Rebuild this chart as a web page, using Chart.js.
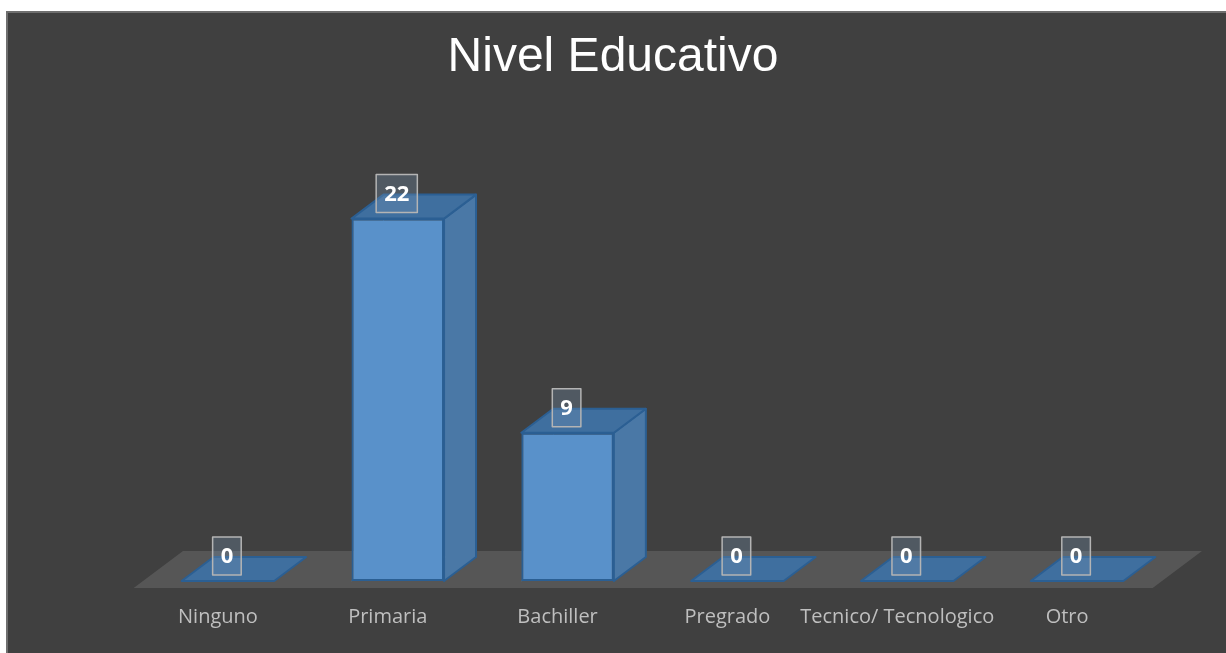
<!DOCTYPE html>
<html>
<head>
<meta charset="utf-8">
<script src="https://cdn.jsdelivr.net/npm/chart.js@4.4.0/dist/chart.umd.min.js"></script>
<style>
  html, body { margin: 0; padding: 0; background: #ffffff; overflow: hidden; }
  #frame {
    position: absolute; left: 6px; top: 11px; right: 0; bottom: 0;
    background: #404040;
    border-top: 2px solid #6f6f6f;
    border-left: 2px solid #6f6f6f;
  }
  #chart { position: absolute; left: 0; top: 0; }
</style>
</head>
<body>
<div id="frame"></div>
<canvas id="chart" width="1226" height="653"></canvas>
<script>
// data
const categories = ["Ninguno", "Primaria", "Bachiller", "Pregrado", "Tecnico/ Tecnologico", "Otro"];
const values = [0, 22, 9, 0, 0, 0];
const chartTitle = "Nivel Educativo";

// oblique depth of the 3D look (px)
const DEPTH_X = 32, DEPTH_Y = -24;

// --- floor + hidden back edges, drawn under the bars
const floorPlugin = {
  id: "floor3d",
  beforeDatasetsDraw(chart) {
    const { ctx, chartArea } = chart;
    const k = DEPTH_X / -DEPTH_Y;
    const front = 7, back = 30;
    const l = chartArea.left, r = chartArea.right, b = chartArea.bottom;
    ctx.save();
    ctx.fillStyle = "#565656";
    ctx.beginPath();
    ctx.moveTo(l - front * k, b + front);
    ctx.lineTo(r - front * k, b + front);
    ctx.lineTo(r + back * k, b - back);
    ctx.lineTo(l + back * k, b - back);
    ctx.closePath();
    ctx.fill();

    // faint back edges seen through the bars
    const meta = chart.getDatasetMeta(0);
    ctx.strokeStyle = "rgba(70,130,190,0.55)";
    ctx.lineWidth = 1;
    meta.data.forEach((bar) => {
      const p = bar.getProps(["x", "y", "base", "width"], true);
      if (p.base - p.y < 1) return;
      const x0 = p.x - p.width / 2, x1 = p.x + p.width / 2;
      ctx.beginPath();
      ctx.moveTo(x0, p.base);
      ctx.lineTo(x0 + DEPTH_X, p.base + DEPTH_Y);
      ctx.lineTo(x1 + DEPTH_X, p.base + DEPTH_Y);
      ctx.moveTo(x0 + DEPTH_X, p.base + DEPTH_Y);
      ctx.lineTo(x0 + DEPTH_X, p.y + DEPTH_Y);
      ctx.stroke();
    });
    ctx.restore();
  },

  // side + top faces, then the value boxes
  afterDatasetsDraw(chart) {
    const { ctx } = chart;
    const meta = chart.getDatasetMeta(0);
    ctx.save();
    ctx.lineJoin = "round";
    meta.data.forEach((bar, i) => {
      const p = bar.getProps(["x", "y", "base", "width"], true);
      const x0 = p.x - p.width / 2, x1 = p.x + p.width / 2;
      const top = p.y, base = p.base;
      ctx.strokeStyle = "#2b5f93";
      ctx.lineWidth = 2;

      if (base - top > 0.5) {
        // side face
        ctx.fillStyle = "#4a78a6";
        ctx.beginPath();
        ctx.moveTo(x1, top);
        ctx.lineTo(x1 + DEPTH_X, top + DEPTH_Y);
        ctx.lineTo(x1 + DEPTH_X, base + DEPTH_Y);
        ctx.lineTo(x1, base);
        ctx.closePath();
        ctx.fill();
        ctx.stroke();
      }
      // top face
      ctx.fillStyle = "#3f6f9f";
      ctx.beginPath();
      ctx.moveTo(x0, top);
      ctx.lineTo(x1, top);
      ctx.lineTo(x1 + DEPTH_X, top + DEPTH_Y);
      ctx.lineTo(x0 + DEPTH_X, top + DEPTH_Y);
      ctx.closePath();
      ctx.fill();
      ctx.stroke();
    });

    // data labels
    ctx.font = "bold 22px 'Open Sans', sans-serif";
    ctx.textAlign = "center";
    ctx.textBaseline = "middle";
    meta.data.forEach((bar, i) => {
      const p = bar.getProps(["x", "y"], true);
      const txt = String(values[i]);
      const w = ctx.measureText(txt).width + 16, h = 38;
      const cx = p.x - 1, cy = p.y - 25;
      ctx.fillStyle = "rgba(120,150,180,0.30)";
      ctx.fillRect(cx - w / 2, cy - h / 2, w, h);
      ctx.strokeStyle = "#b4b4b4";
      ctx.lineWidth = 1.5;
      ctx.strokeRect(cx - w / 2, cy - h / 2, w, h);
      ctx.fillStyle = "#ffffff";
      ctx.fillText(txt, cx, cy + 1);
    });
    ctx.restore();
  }
};

new Chart(document.getElementById("chart"), {
  type: "bar",
  data: {
    labels: categories,
    datasets: [{
      data: values,
      backgroundColor: "#5991ca",
      borderColor: "#2b5f93",
      borderWidth: 2,
      borderSkipped: false,
      categoryPercentage: 1,
      barPercentage: 0.545,
    }],
  },
  options: {
    responsive: false,
    animation: false,
    layout: { padding: { left: 64, right: 64, top: 0, bottom: 0 } },
    plugins: {
      legend: { display: false },
      tooltip: { enabled: false },
      title: {
        display: true,
        text: chartTitle,
        color: "#ffffff",
        font: { family: "'Liberation Sans', Arial, sans-serif", size: 48, weight: "normal" },
        padding: { top: 29, bottom: 132 },
      },
    },
    scales: {
      x: {
        grid: { display: false, drawTicks: false },
        border: { display: false },
        ticks: {
          color: "#bfbfbf",
          padding: 24,
          labelOffset: -10,
          maxRotation: 0,
          autoSkip: false,
          font: { family: "'Open Sans', sans-serif", size: 20 },
        },
      },
      y: {
        min: 0, max: 22,
        grid: { display: false, drawTicks: false },
        border: { display: false },
        ticks: { display: false },
        afterFit(scale) { scale.width = 79; },
      },
    },
  },
  plugins: [floorPlugin],
});
</script>
</body>
</html>
